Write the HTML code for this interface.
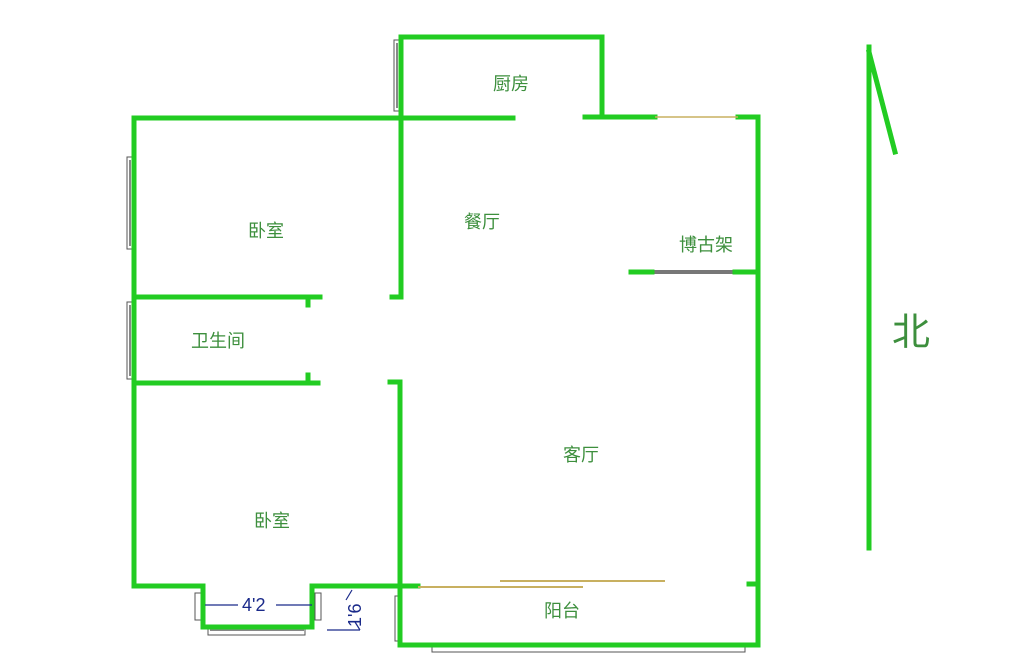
<!DOCTYPE html>
<html><head><meta charset="utf-8"><style>
html,body{margin:0;padding:0;background:#fff;}
svg{display:block}
text{font-family:"Liberation Sans","Noto Sans CJK SC",sans-serif;fill:#3d8f3d;font-size:18px}
</style></head><body>
<svg width="1024" height="663" viewBox="0 0 1024 663" xmlns="http://www.w3.org/2000/svg">
<g fill="none" stroke="#555" stroke-width="1">
<rect x="127" y="157" width="5" height="92" fill="#fff"/>
<rect x="127" y="302" width="5" height="77" fill="#fff"/>
<rect x="394" y="40" width="5" height="71" fill="#fff"/>
<rect x="395" y="596" width="5" height="45" fill="#fff"/>
<rect x="208" y="627" width="97" height="8" fill="#fff"/>
<rect x="432" y="645" width="313" height="7" fill="#fff"/>
<rect x="195" y="593" width="6" height="27" fill="#fff"/>
<rect x="315" y="593" width="6" height="27" fill="#fff"/>
</g>
<g stroke="#888" stroke-width="2">
<line x1="130" y1="160" x2="130" y2="246"/>
<line x1="130" y1="305" x2="130" y2="376"/>
<line x1="397" y1="43" x2="397" y2="108"/>
<line x1="400" y1="600" x2="400" y2="638"/>
<line x1="210" y1="630" x2="304" y2="630"/>
<line x1="652" y1="272" x2="735" y2="272" stroke-width="4" stroke="#777"/>
</g>
<g fill="none" stroke="#22cc22" stroke-width="5" stroke-linejoin="miter" stroke-linecap="square">
<polyline points="401,118 401,37 602,37 602,117"/>
<polyline points="513,118 134,118 134,586 203,586 203,627 312,627 312,586 400,586"/>
<polyline points="585,117 655,117"/>
<polyline points="738,117 758,117 758,645 400,645 400,382 390,382"/>
<polyline points="392,297 401,297 401,118"/>
<polyline points="320,297 134,297"/>
<line x1="308" y1="297" x2="308" y2="305"/>
<polyline points="318,383 134,383"/>
<line x1="308" y1="375" x2="308" y2="383"/>
<line x1="631" y1="272" x2="652" y2="272"/>
<line x1="735" y1="272" x2="758" y2="272"/>
<line x1="749" y1="584" x2="758" y2="584"/>
<line x1="400" y1="586" x2="418" y2="586"/>
<polyline points="869,47 869,548"/>
<line x1="869" y1="52" x2="895" y2="152"/>
</g>
<g stroke="#c8b060" stroke-width="2">
<line x1="655" y1="117" x2="738" y2="117" stroke-width="1.5"/>
<line x1="418" y1="587" x2="583" y2="587"/>
<line x1="500" y1="581" x2="665" y2="581"/>
</g>
<g stroke="#1a2a8a" stroke-width="1.2">
<line x1="205" y1="605" x2="238" y2="605"/>
<line x1="276" y1="605" x2="312" y2="605"/>
<line x1="327" y1="630" x2="360" y2="630"/>
<line x1="352" y1="590" x2="346" y2="600"/>
<line x1="360" y1="630" x2="355" y2="622"/>
</g>
<text x="493" y="90">厨房</text>
<text x="248" y="237">卧室</text>
<text x="464" y="228">餐厅</text>
<text x="679" y="251">博古架</text>
<text x="191" y="347">卫生间</text>
<text x="563" y="461">客厅</text>
<text x="254" y="527">卧室</text>
<text x="544" y="617">阳台</text>
<text x="892" y="345" style="font-size:38px">北</text>
<text x="242" y="611" style="fill:#1a2a8a;font-size:18px">4'2</text>
<text x="0" y="0" transform="translate(361,627) rotate(-90)" style="fill:#1a2a8a;font-size:18px">1'6</text>
</svg>
</body></html>
